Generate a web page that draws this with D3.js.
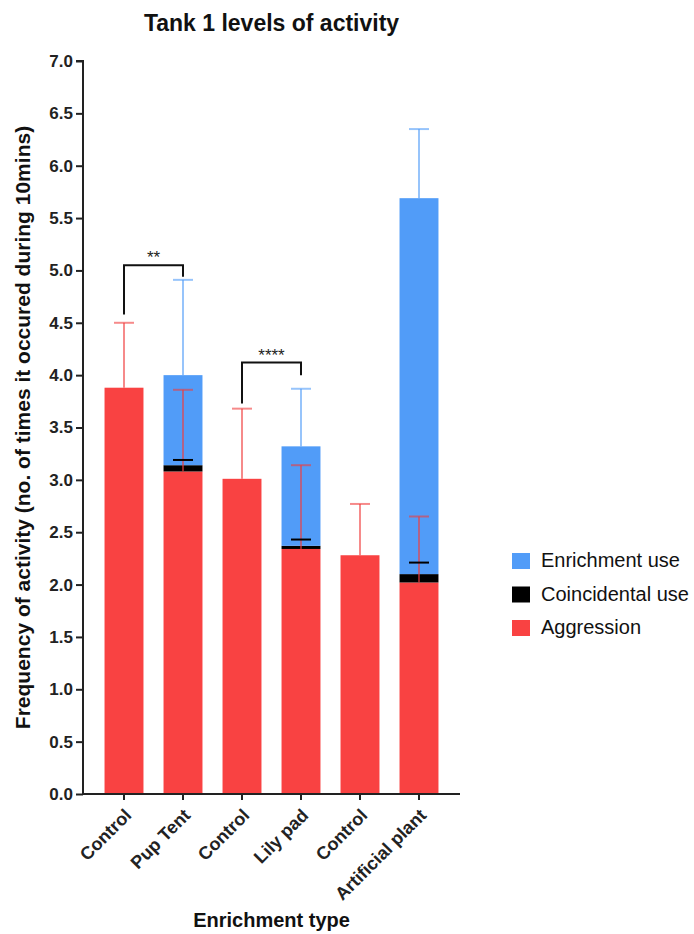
<!DOCTYPE html>
<html>
<head>
<meta charset="utf-8">
<script src="https://cdn.jsdelivr.net/npm/d3@7"></script>
<style>
  body { margin: 0; background: #fff; }
  svg { display: block; font-family: "Liberation Sans", Arial, sans-serif; }
  .axis path, .axis line { stroke: #222; stroke-width: 2px; }
  .axis text { font-weight: bold; fill: #222; }
</style>
</head>
<body>
<div id="chart"></div>
<script>
// values
var categories = ["Control", "Pup Tent", "Control", "Lily pad", "Control", "Artificial plant"];
var aggression = [3.88, 3.08, 3.01, 2.34, 2.28, 2.02];
var coincidental = [0, 0.06, 0, 0.03, 0, 0.08];
var enrichment = [0, 0.86, 0, 0.95, 0, 3.59];
var aggressionErr = [0.62, 0.78, 0.67, 0.80, 0.49, 0.63];
var coincidentalErr = [0, 0.05, 0, 0.06, 0, 0.11];
var enrichmentErr = [0, 0.91, 0, 0.55, 0, 0.66];
var yTicks = [0, 0.5, 1, 1.5, 2, 2.5, 3, 3.5, 4, 4.5, 5, 5.5, 6, 6.5, 7];
var seriesNames = ["Enrichment use", "Coincidental use", "Aggression"];
var seriesColors = ["#519cf8", "#000000", "#f94242"];
var brackets = [
  {from: 0, to: 1, top: 5.05, left: 4.58, right: 4.94, label: "**"},
  {from: 2, to: 3, top: 4.12, left: 3.73, right: 4.00, label: "****"}
];

var width = 694, height = 934;
var plot = {left: 83, right: 460, top: 61, bottom: 794};

var svg = d3.select("#chart").append("svg")
    .attr("width", width)
    .attr("height", height);

var idx = d3.range(categories.length);

var x = d3.scaleBand()
    .domain(idx)
    .range([plot.left, plot.right])
    .paddingInner(0.34)
    .paddingOuter(0.365);

var y = d3.scaleLinear()
    .domain([0, 7])
    .range([plot.bottom, plot.top]);

// stacked segments: aggression at the bottom, coincidental, then enrichment
var stack = idx.map(function(i) {
  var a = aggression[i], c = coincidental[i], e = enrichment[i];
  return [
    {i: i, key: 2, y0: 0, y1: a, err: aggressionErr[i]},
    {i: i, key: 1, y0: a, y1: a + c, err: coincidentalErr[i]},
    {i: i, key: 0, y0: a + c, y1: a + c + e, err: enrichmentErr[i]}
  ];
});
var segs = d3.merge(stack).filter(function(d) { return d.y1 > d.y0; });

svg.append("g").selectAll("rect")
    .data(segs)
  .enter().append("rect")
    .attr("x", function(d) { return x(d.i); })
    .attr("width", x.bandwidth())
    .attr("y", function(d) { return y(d.y1); })
    .attr("height", function(d) { return y(d.y0) - y(d.y1); })
    .attr("fill", function(d) { return seriesColors[d.key]; });

// error bars (upper only), drawn from the top of each segment
var errColors = ["#519cf8", "#000000", "#f03c3c"];
var errOpacity = [0.6, 1, 0.6];
var capW = 20;
var errs = segs.filter(function(d) { return d.err > 0; });

var eb = svg.append("g").selectAll("g")
    .data(errs)
  .enter().append("g")
    .attr("stroke", function(d) { return errColors[d.key]; })
    .attr("stroke-opacity", function(d) { return errOpacity[d.key]; })
    .attr("stroke-width", 2);

eb.append("line")
    .attr("x1", function(d) { return x(d.i) + x.bandwidth() / 2; })
    .attr("x2", function(d) { return x(d.i) + x.bandwidth() / 2; })
    .attr("y1", function(d) { return y(d.y1); })
    .attr("y2", function(d) { return y(d.y1 + d.err); })
    .attr("display", function(d) { return d.key === 1 ? "none" : null; });

eb.append("line")
    .attr("x1", function(d) { return x(d.i) + x.bandwidth() / 2 - capW / 2; })
    .attr("x2", function(d) { return x(d.i) + x.bandwidth() / 2 + capW / 2; })
    .attr("y1", function(d) { return y(d.y1 + d.err); })
    .attr("y2", function(d) { return y(d.y1 + d.err); });

// axes
var yAxis = d3.axisLeft(y).tickValues(yTicks).tickSize(7).tickPadding(3)
    .tickFormat(d3.format(".1f"));
svg.append("g")
    .attr("class", "axis y-axis")
    .attr("transform", "translate(" + plot.left + ",0)")
    .call(yAxis)
    .call(function(g) { g.select(".domain").attr("d", "M-7," + plot.top + "H0V" + plot.bottom); })
    .selectAll("text")
    .style("font-size", "17px");

var xAxis = d3.axisBottom(x).tickSize(6).tickFormat(function(i) { return categories[i]; });
svg.append("g")
    .attr("class", "axis x-axis")
    .attr("transform", "translate(0," + plot.bottom + ")")
    .call(xAxis)
    .call(function(g) { g.select(".domain").attr("d", "M" + plot.left + ",0H" + plot.right); })
    .selectAll("text")
    .style("font-size", "18px")
    .style("text-anchor", "end")
    .attr("x", 0).attr("y", 0).attr("dy", "0.35em")
    .attr("transform", "translate(4,18) rotate(-45)");

// significance brackets
var br = svg.append("g").selectAll("g")
    .data(brackets)
  .enter().append("g");

br.append("path")
    .attr("fill", "none")
    .attr("stroke", "#111")
    .attr("stroke-width", 2)
    .attr("d", function(d) {
      var x1 = x(d.from) + x.bandwidth() / 2, x2 = x(d.to) + x.bandwidth() / 2;
      return "M" + x1 + "," + y(d.left) + "V" + y(d.top) + "H" + x2 + "V" + y(d.right);
    });

br.append("text")
    .attr("x", function(d) { return (x(d.from) + x(d.to) + x.bandwidth()) / 2; })
    .attr("y", function(d) { return y(d.top) - 2; })
    .attr("text-anchor", "middle")
    .style("font-size", "17px")
    .style("fill", "#222")
    .text(function(d) { return d.label; });

// titles
svg.append("text")
    .attr("x", (plot.left + plot.right) / 2)
    .attr("y", 31)
    .attr("text-anchor", "middle")
    .style("font-size", "23px")
    .style("font-weight", "bold")
    .style("fill", "#111")
    .text("Tank 1 levels of activity");

svg.append("text")
    .attr("transform", "translate(30," + ((plot.top + plot.bottom) / 2) + ") rotate(-90)")
    .attr("text-anchor", "middle")
    .style("font-size", "21px")
    .style("font-weight", "bold")
    .style("fill", "#111")
    .text("Frequency of activity (no. of times it occured during 10mins)");

svg.append("text")
    .attr("x", (plot.left + plot.right) / 2)
    .attr("y", 927)
    .attr("text-anchor", "middle")
    .style("font-size", "20px")
    .style("font-weight", "bold")
    .style("fill", "#111")
    .text("Enrichment type");

// legend
var legend = svg.append("g").selectAll("g")
    .data(seriesNames)
  .enter().append("g")
    .attr("transform", function(d, i) { return "translate(512," + (553 + i * 33.5) + ")"; });

legend.append("rect")
    .attr("width", 18)
    .attr("height", 16)
    .attr("fill", function(d, i) { return seriesColors[i]; });

legend.append("text")
    .attr("x", 29)
    .attr("y", 14)
    .style("font-size", "20px")
    .style("fill", "#111")
    .text(function(d) { return d; });
</script>
</body>
</html>
